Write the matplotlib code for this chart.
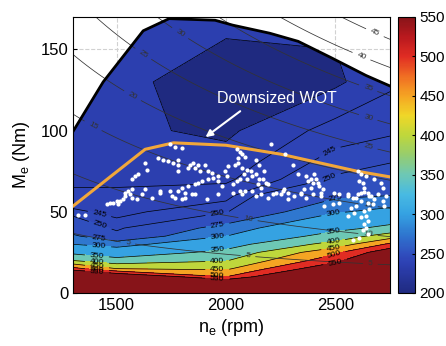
import numpy as np
import matplotlib
matplotlib.use('Agg')
import matplotlib.pyplot as plt
from matplotlib.colors import LinearSegmentedColormap, Normalize
from matplotlib.cm import ScalarMappable
from matplotlib.patches import Polygon

plt.rcParams['font.family'] = ['Liberation Sans', 'DejaVu Sans']
plt.rcParams['mathtext.fontset'] = 'custom'
plt.rcParams['mathtext.rm'] = 'Liberation Sans'
plt.rcParams['mathtext.default'] = 'regular'

# BSFC map (g/kWh): columns = speed, rows = torque
speed_rpm = [1300, 1500, 2000, 2500, 2750]
torque_nm = [0, 10, 15, 20, 25, 30, 35, 40, 50, 60, 70, 80, 100, 130, 170]
bsfc_1300 = [800, 700, 517, 400, 338, 300, 279, 261, 246, 241, 239, 238, 237, 237, 239]
bsfc_1500 = [900, 620, 450, 367, 321, 288, 255, 247.5, 243.5, 241, 239, 237.5, 236, 236, 238]
bsfc_2000 = [800, 500, 441, 397, 362, 330, 300, 284, 249, 243, 239, 237, 234, 233, 236]
bsfc_2500 = [900, 700, 600, 534, 490, 420, 369, 337, 297, 270, 251, 247.5, 242, 234, 236]
bsfc_2750 = [1000, 850, 750, 650, 590, 510, 425, 361, 309, 275, 256, 250, 244, 239, 238]

fill_levels = [200, 235, 240, 245, 250, 275, 300, 350, 400, 450, 500, 550, 2000]
line_levels = [235, 240, 245, 250, 275, 300, 350, 400, 450, 500, 550]
power_levels = [5, 10, 15, 20, 25, 30, 35, 40, 45]
cbar_ticks = [200, 250, 300, 350, 400, 450, 500, 550]

# full load curves
wot_rpm = [1300, 1438, 1621, 1740, 1950, 2030, 2200, 2330, 2480, 2640, 2750]
wot_nm = [99.5, 130, 161.5, 169, 168, 165, 160, 155, 145, 134, 127.5]
dwot_rpm = [1300, 1630, 1760, 2000, 2250, 2600, 2750]
dwot_nm = [53.5, 88.5, 92.5, 91, 85.5, 75, 71.5]

# operating points
left_rpm = [1323, 1355, 1456, 1470, 1483, 1502, 1516, 1529, 1506, 1539,
            1561, 1571, 1594, 1617, 1662, 1699, 1754, 1539, 1552, 1571,
            1630, 1699, 1745, 1571, 1584, 1598, 1639, 1630, 1690, 1713,
            1736, 1759, 1782, 1782, 1745, 1768, 1800]
left_nm = [48, 48, 55, 55.5, 55.5, 56.5, 56.5, 58, 55, 60,
           61, 58.5, 58, 61, 58.5, 61.5, 60, 61.5, 63, 64,
           64, 63, 63, 70.5, 72, 73, 76, 80, 83, 82,
           81, 80, 79, 75, 91.5, 90, 89.5]
mid_rpm = [1782, 1837, 1850, 1873, 1860, 1828, 1905, 1919, 1938, 1965,
           1961, 1919, 1892, 1873, 1860, 1828, 1800, 1782, 1814, 1846,
           1768, 1800,
           2052, 2066, 2075, 2089, 2057, 2043, 2057, 2075, 2098, 2112,
           2080, 2066, 2052, 2034, 2098, 2121, 2135, 2149, 2167, 2181,
           2194, 2144, 2158, 2121, 2089, 2075, 2204, 2135, 2149, 2172,
           1814, 1860, 1915, 1965, 2034, 2066, 2135, 2158, 2194, 2213,
           2227, 2259, 1883, 1942, 1997, 2011, 1983, 2006]
mid_nm = [82, 79, 80, 79, 77, 77, 79, 75, 74, 72,
          69, 70, 69, 68, 67, 66, 64.5, 63, 61.5, 61,
          58.5, 58,
          88.5, 87, 85.5, 84, 83, 79, 80, 77, 76, 75,
          73, 70.5, 69, 67, 70, 72, 73, 70.5, 70, 67.5,
          67, 67, 64.5, 63, 63, 61, 92, 82, 79, 75,
          58.5, 61, 58, 61, 61.5, 63, 60, 61, 58.5, 61,
          61.5, 63, 75, 71, 75, 78, 66, 72]
right_rpm = [2272, 2305, 2327, 2364, 2387, 2401, 2410, 2419, 2396, 2373,
             2424, 2442, 2433, 2387, 2355, 2341, 2309, 2282, 2263, 2250,
             2493, 2516, 2557, 2594, 2617, 2630, 2626, 2607, 2649, 2662,
             2694, 2717, 2731, 2603, 2617, 2639, 2676, 2708,
             2557, 2580, 2603, 2630, 2653, 2617, 2649, 2594, 2571, 2630,
             2653, 2639, 2617, 2649, 2630, 2639, 2626, 2649, 2607, 2580,
             2557, 2584, 2672, 2676, 2717, 2722,
             2282, 2341, 2364, 2396, 2433, 2447, 2488, 2516]
right_nm = [85.5, 79, 73, 72, 70.5, 73, 70, 67.5, 67.5, 69,
            66, 64, 61.5, 64.5, 64, 61.5, 60, 61.5, 64, 61,
            61.5, 61, 60, 58.5, 61.5, 64.5, 67.5, 69, 61.5, 60,
            61, 64.5, 60, 75, 73, 72, 70.5, 67.5,
            61, 58.5, 61, 62, 60, 56.5, 55.5, 53.5, 52.5, 50.5,
            52, 47.5, 46.5, 44.5, 42.5, 40, 38.5, 36.5, 34, 32.5,
            47.5, 49, 55, 58, 56.5, 53.5,
            58, 61, 58.5, 61, 60, 53.5, 55, 55.5]

bsfc = np.array([bsfc_1300, bsfc_1500, bsfc_2000, bsfc_2500, bsfc_2750]).T

# muted jet-like colour scale
cmap = LinearSegmentedColormap.from_list('mjet', [
    (0.0, '#1f2a80'), (0.1, '#2c3fb0'), (0.114, '#2e43b5'), (0.143, '#3050bf'),
    (0.214, '#2f78d0'), (0.286, '#35a2e2'), (0.357, '#48bae2'), (0.429, '#6ec8b4'),
    (0.5, '#96cd6e'), (0.571, '#bed73c'), (0.643, '#f0d728'), (0.714, '#f5a523'),
    (0.786, '#f06e23'), (0.857, '#e12d23'), (0.929, '#b9191e'), (1.0, '#871419')])
norm = Normalize(200, 550)
band_colors = [cmap(norm(min(l, 550))) for l in fill_levels[:-1]]

fig = plt.figure(figsize=(4.46, 3.46), dpi=100)
ax = fig.add_axes([0.1637, 0.1532, 0.7107, 0.7977])
cax = fig.add_axes([0.892, 0.1532, 0.038, 0.7977])

clip = Polygon(np.column_stack([wot_rpm + [2750, 1300], wot_nm + [0, 0]]),
               closed=True, transform=ax.transData)

cf = ax.contourf(speed_rpm, torque_nm, bsfc, levels=fill_levels, colors=band_colors)
cf.set_clip_path(clip)
cl = ax.contour(speed_rpm, torque_nm, bsfc, levels=line_levels, colors='k', linewidths=0.5)
cl.set_clip_path(clip)
bsfc_lab = [(1420, 48), (1420, 40), (1420, 34), (1420, 30), (1410, 24), (1410, 20),
            (1410, 16.5), (1410, 15), (1410, 13),
            (1960, 49), (1960, 43), (1960, 35), (1960, 27), (1960, 20), (1960, 14),
            (1960, 11), (1960, 9),
            (2470, 72), (2500, 60), (2490, 49), (2490, 37), (2490, 32), (2490, 28),
            (2490, 25), (2500, 18), (2470, 88)]
ax.clabel(cl, fmt='%d', fontsize=6, manual=bsfc_lab, inline=True)

# constant power lines (kW)
n_grid, m_grid = np.meshgrid(np.linspace(1300, 2750, 200), np.linspace(0, 170, 200))
power_kw = n_grid * m_grid * 2 * np.pi / 60 / 1000
cp = ax.contour(n_grid, m_grid, power_kw, levels=power_levels, colors='0.2', linewidths=0.55)
power_lab = [(1550, 30), (2100, 22), (2660, 17), (2100, 45), (2650, 37),
             (1400, 105), (2650, 54), (1570, 121), (2640, 72), (1620, 147),
             (2650, 90), (1790, 160), (2650, 108), (2650, 126), (2620, 146), (2680, 160)]
ax.clabel(cp, fmt='%d', fontsize=6, manual=power_lab, inline=True)

ax.plot(wot_rpm, wot_nm, color='k', lw=2, zorder=4)
ax.plot(dwot_rpm, dwot_nm, color='#f2a73a', lw=2.2, zorder=4)
ax.scatter(left_rpm + mid_rpm + right_rpm, left_nm + mid_nm + right_nm,
           s=9, c='white', linewidths=0, zorder=5)

ax.annotate('', xy=(1896, 95), xytext=(2075, 113),
            arrowprops=dict(arrowstyle='-|>', color='white', lw=1.5, mutation_scale=10))
ax.text(2231, 120, 'Downsized WOT', color='white', fontsize=11.5, ha='center', va='center')

ax.set_xlim(1300, 2750)
ax.set_ylim(0, 170)
ax.set_xticks([1500, 2000, 2500])
ax.set_yticks([0, 50, 100, 150])
ax.grid(True, ls='--', color='0.82', lw=0.8)
ax.set_axisbelow(True)
ax.tick_params(direction='in', length=3, labelsize=12)
ax.set_xlabel('n$_e$ (rpm)', fontsize=13, labelpad=3)
ax.set_ylabel('M$_e$ (Nm)', fontsize=13, labelpad=6)

cb = fig.colorbar(ScalarMappable(norm=norm, cmap=cmap), cax=cax, ticks=cbar_ticks)
cb.ax.tick_params(labelsize=11, length=2, direction='in')
cb.outline.set_linewidth(0.8)

fig.savefig('out.png', dpi=100)
